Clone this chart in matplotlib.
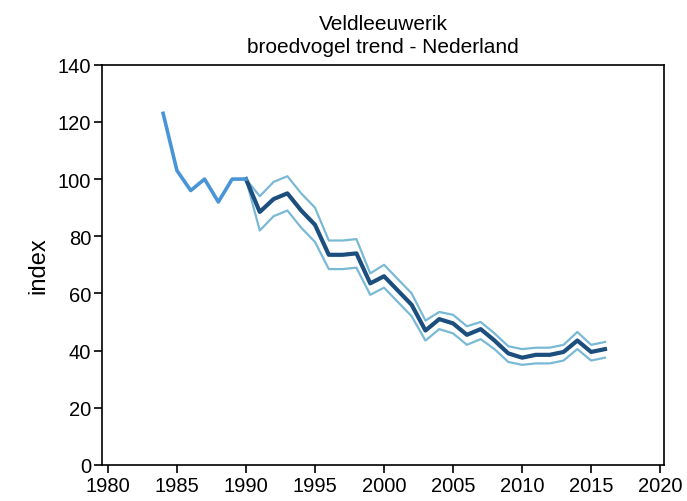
import matplotlib
matplotlib.use("Agg")
import matplotlib.pyplot as plt

# early years (light line)
years_early = [1984, 1985, 1986, 1987, 1988, 1989, 1990]
index_early = [123, 103, 96, 100, 92, 100, 100]

# trend with confidence band
years = list(range(1990, 2017))
index_mid = [100, 88.5, 93, 95, 89, 84, 73.5, 73.5, 74, 63.5, 66, 61, 56, 47, 51, 49.5,
             45.5, 47.5, 43.5, 39, 37.5, 38.5, 38.5, 39.5, 43.5, 39.5, 40.5]
index_hi = [100, 94, 99, 101, 95, 90, 78.5, 78.5, 79, 67, 70, 65, 60, 50.5, 53.5, 52.5,
            48.5, 50, 46, 41.5, 40.5, 41, 41, 42, 46.5, 42, 43]
index_lo = [100, 82, 87, 89, 83, 78, 68.5, 68.5, 69, 59.5, 62, 57, 52, 43.5, 47.5, 46,
            42, 44, 40.5, 36, 35, 35.5, 35.5, 36.5, 40.5, 36.5, 37.5]

plt.rcParams['font.family'] = ['Liberation Sans', 'DejaVu Sans']

fig = plt.figure(figsize=(6.87, 5.02), dpi=100)
ax = fig.add_axes([0.149, 0.072, 0.818, 0.797])

ax.plot(years, index_hi, color='#7ab9d6', lw=1.6)
ax.plot(years, index_lo, color='#7ab9d6', lw=1.6)
ax.plot(years, index_mid, color='#1c4f7e', lw=3)
ax.plot(years_early, index_early, color='#4a95d6', lw=2.6)

ax.set_xlim(1979.6, 2020.3)
ax.set_ylim(0, 140)
ax.set_xticks(range(1980, 2021, 5))
ax.set_yticks(range(0, 141, 20))
ax.tick_params(labelsize=14.5, length=6, width=1.2, direction='out', pad=2)
for s in ax.spines.values():
    s.set_linewidth(1.2)

ax.set_ylabel('index', fontsize=17, labelpad=6)
ax.set_title('Veldleeuwerik\nbroedvogel trend - Nederland', fontsize=15, pad=9, linespacing=1.3)

fig.savefig('out.png', dpi=100)
